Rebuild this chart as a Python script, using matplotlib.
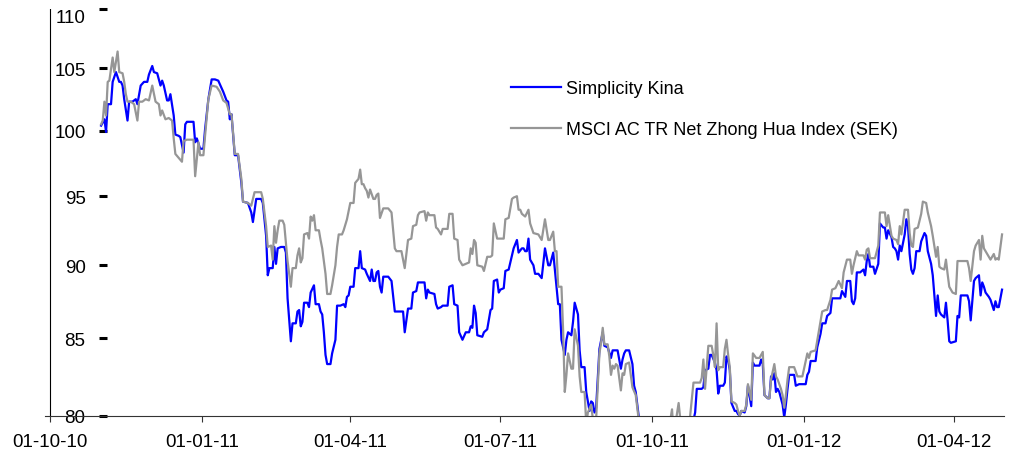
import matplotlib
matplotlib.use("Agg")
import matplotlib.pyplot as plt
import matplotlib.dates as mdates
from matplotlib.ticker import FixedLocator, FixedFormatter, NullLocator
import pandas as pd

plt.rcParams["font.family"] = ["Liberation Sans", "DejaVu Sans"]

# Simplicity Kina (blue)
kina_dates = [
    "2010-11-01", "2010-11-03", "2010-11-04", "2010-11-05", "2010-11-07", "2010-11-08", "2010-11-10", "2010-11-12", "2010-11-13", "2010-11-14",
    "2010-11-15", "2010-11-17", "2010-11-18", "2010-11-20", "2010-11-22", "2010-11-23", "2010-11-25", "2010-11-27", "2010-11-29", "2010-11-30",
    "2010-12-02", "2010-12-03", "2010-12-05", "2010-12-07", "2010-12-08", "2010-12-09", "2010-12-11", "2010-12-12", "2010-12-13", "2010-12-15",
    "2010-12-16", "2010-12-18", "2010-12-19", "2010-12-21", "2010-12-22", "2010-12-23", "2010-12-27", "2010-12-28", "2010-12-29", "2010-12-31",
    "2011-01-02", "2011-01-03", "2011-01-05", "2011-01-07", "2011-01-09", "2011-01-11", "2011-01-12", "2011-01-14", "2011-01-16", "2011-01-17",
    "2011-01-18", "2011-01-19", "2011-01-21", "2011-01-23", "2011-01-25", "2011-01-26", "2011-01-29", "2011-01-31",
    "2011-02-01", "2011-02-03", "2011-02-06", "2011-02-07", "2011-02-09", "2011-02-10", "2011-02-11", "2011-02-13", "2011-02-14", "2011-02-15",
    "2011-02-16", "2011-02-18", "2011-02-20", "2011-02-21", "2011-02-22", "2011-02-24", "2011-02-25", "2011-02-27", "2011-02-28",
    "2011-03-01", "2011-03-02", "2011-03-03", "2011-03-04", "2011-03-06", "2011-03-07", "2011-03-08", "2011-03-10", "2011-03-11", "2011-03-13",
    "2011-03-14", "2011-03-15", "2011-03-16", "2011-03-17", "2011-03-18", "2011-03-20", "2011-03-21", "2011-03-23", "2011-03-24", "2011-03-26",
    "2011-03-28", "2011-03-29", "2011-03-30", "2011-03-31",
    "2011-04-01", "2011-04-03", "2011-04-04", "2011-04-06", "2011-04-07", "2011-04-08", "2011-04-10", "2011-04-11", "2011-04-13", "2011-04-14",
    "2011-04-15", "2011-04-16", "2011-04-17", "2011-04-18", "2011-04-19", "2011-04-20", "2011-04-21", "2011-04-24", "2011-04-26", "2011-04-28",
    "2011-04-30",
    "2011-05-02", "2011-05-03", "2011-05-04", "2011-05-06", "2011-05-08", "2011-05-09", "2011-05-11", "2011-05-12", "2011-05-13", "2011-05-16",
    "2011-05-17", "2011-05-18", "2011-05-19", "2011-05-22", "2011-05-23", "2011-05-24", "2011-05-26", "2011-05-27", "2011-05-30", "2011-05-31",
    "2011-06-02", "2011-06-03", "2011-06-05", "2011-06-06", "2011-06-08", "2011-06-10", "2011-06-12", "2011-06-13", "2011-06-14", "2011-06-15",
    "2011-06-16", "2011-06-17", "2011-06-20", "2011-06-21", "2011-06-23", "2011-06-25", "2011-06-26", "2011-06-27", "2011-06-29", "2011-06-30",
    "2011-07-01", "2011-07-03", "2011-07-04", "2011-07-06", "2011-07-08", "2011-07-09", "2011-07-11", "2011-07-12", "2011-07-14", "2011-07-15",
    "2011-07-16", "2011-07-17", "2011-07-18", "2011-07-19", "2011-07-21", "2011-07-22", "2011-07-24", "2011-07-26", "2011-07-28", "2011-07-30",
    "2011-07-31",
    "2011-08-02", "2011-08-03", "2011-08-05", "2011-08-06", "2011-08-07", "2011-08-09", "2011-08-10", "2011-08-11", "2011-08-13", "2011-08-14",
    "2011-08-15", "2011-08-17", "2011-08-18", "2011-08-19", "2011-08-21", "2011-08-22", "2011-08-24", "2011-08-25", "2011-08-26", "2011-08-27",
    "2011-08-28", "2011-08-29", "2011-08-30",
    "2011-09-01", "2011-09-02", "2011-09-04", "2011-09-06", "2011-09-07", "2011-09-09", "2011-09-10", "2011-09-12", "2011-09-13", "2011-09-14",
    "2011-09-15", "2011-09-17", "2011-09-19", "2011-09-20", "2011-09-21", "2011-09-23", "2011-09-27", "2011-09-30",
    "2011-10-06", "2011-10-10", "2011-10-15", "2011-10-20", "2011-10-24", "2011-10-27", "2011-10-28", "2011-10-30", "2011-10-31",
    "2011-11-01", "2011-11-02", "2011-11-04", "2011-11-05", "2011-11-06", "2011-11-08", "2011-11-09", "2011-11-10", "2011-11-11", "2011-11-13",
    "2011-11-14", "2011-11-15", "2011-11-16", "2011-11-17", "2011-11-18", "2011-11-20", "2011-11-21", "2011-11-22", "2011-11-23", "2011-11-24",
    "2011-11-26", "2011-11-27", "2011-11-28", "2011-11-30",
    "2011-12-01", "2011-12-02", "2011-12-05", "2011-12-06", "2011-12-07", "2011-12-08", "2011-12-10", "2011-12-11", "2011-12-12", "2011-12-13",
    "2011-12-14", "2011-12-15", "2011-12-16", "2011-12-17", "2011-12-19", "2011-12-20", "2011-12-21", "2011-12-22", "2011-12-23", "2011-12-26",
    "2011-12-27", "2011-12-29",
    "2012-01-02", "2012-01-03", "2012-01-04", "2012-01-05", "2012-01-08", "2012-01-09", "2012-01-11", "2012-01-12", "2012-01-14", "2012-01-15",
    "2012-01-17", "2012-01-18", "2012-01-20", "2012-01-23", "2012-01-24", "2012-01-26", "2012-01-27", "2012-01-29", "2012-01-30", "2012-01-31",
    "2012-02-01", "2012-02-02", "2012-02-04", "2012-02-06", "2012-02-07", "2012-02-08", "2012-02-09", "2012-02-10", "2012-02-12", "2012-02-13",
    "2012-02-15", "2012-02-16", "2012-02-18", "2012-02-19", "2012-02-20", "2012-02-21", "2012-02-23", "2012-02-24", "2012-02-25", "2012-02-26",
    "2012-02-27", "2012-02-28", "2012-02-29",
    "2012-03-02", "2012-03-03", "2012-03-04", "2012-03-05", "2012-03-06", "2012-03-07", "2012-03-08", "2012-03-09", "2012-03-11", "2012-03-12",
    "2012-03-14", "2012-03-15", "2012-03-16", "2012-03-18", "2012-03-19", "2012-03-21", "2012-03-22", "2012-03-23", "2012-03-24", "2012-03-25",
    "2012-03-26", "2012-03-27", "2012-03-28", "2012-03-29", "2012-03-30",
    "2012-04-02", "2012-04-03", "2012-04-04", "2012-04-05", "2012-04-06", "2012-04-09", "2012-04-10", "2012-04-11", "2012-04-13", "2012-04-14",
    "2012-04-16", "2012-04-17", "2012-04-18", "2012-04-19", "2012-04-20", "2012-04-22", "2012-04-23", "2012-04-25", "2012-04-26", "2012-04-27",
    "2012-04-28", "2012-04-30",
]
kina = [
    100.4, 100.9, 99.9, 102.1, 102.1, 103.9, 104.7, 103.9, 103.9, 103.6, 102.5, 100.8, 102.3, 102.3, 102.5, 102.1, 103.6, 103.9, 103.9, 104.5,
    105.2, 104.7, 104.6, 103.6, 104.0, 103.6, 102.4, 102.4, 102.9, 101.2, 99.7, 99.6, 99.5, 98.3, 100.5, 100.7, 100.7, 99.1, 99.4, 98.6,
    98.6, 100.1, 102.5, 104.1, 104.1, 104.0, 103.7, 103.1, 102.4, 102.3, 100.9, 101.3, 98.1, 98.1, 96.0, 94.6, 94.5, 93.8,
    93.1, 94.8, 94.8, 94.5, 92.1, 89.3, 89.8, 89.8, 91.3, 90.1, 91.2, 91.3, 91.3, 90.9, 87.7, 84.8, 86.0, 86.0, 86.8,
    86.9, 85.8, 86.1, 87.4, 87.4, 87.1, 88.1, 88.6, 87.3, 87.3, 86.8, 86.6, 85.4, 83.9, 83.3, 83.3, 84.0, 84.9, 87.2, 87.2, 87.3, 87.1, 87.8, 87.9,
    88.5, 88.5, 89.8, 89.8, 91.0, 89.8, 89.7, 89.4, 88.9, 89.7, 88.9, 88.9, 89.5, 89.6, 88.5, 88.1, 89.2, 89.2, 88.9, 86.8, 86.8,
    86.8, 86.8, 85.4, 87.0, 87.0, 88.1, 88.2, 88.8, 88.8, 88.8, 87.7, 88.3, 88.1, 88.0, 87.3, 87.0, 87.1, 87.2, 87.2, 88.5,
    88.6, 87.3, 87.2, 85.4, 84.9, 85.4, 85.4, 85.8, 85.7, 87.2, 86.7, 85.2, 85.1, 85.4, 85.6, 86.9, 87.0, 88.9, 89.0, 88.1,
    88.3, 88.4, 89.6, 89.7, 90.7, 91.2, 91.8, 90.9, 91.2, 91.2, 91.0, 91.0, 91.9, 90.4, 90.0, 89.4, 89.4, 89.1, 91.2, 90.0, 90.0,
    90.9, 89.7, 87.3, 87.3, 84.9, 83.9, 84.9, 85.4, 85.2, 86.1, 87.4, 86.6, 84.2, 83.1, 83.1, 81.5, 80.3, 80.9, 80.8, 80.2, 80.5, 82.4, 84.3,
    85.4, 84.5, 84.4, 83.7, 84.2, 84.2, 84.2, 83.0, 83.6, 84.0, 84.2, 84.2, 83.3, 81.9, 81.5, 79.8, 78.5, 77.8,
    78.2, 78.8, 78.5, 79.0, 78.8, 80.2, 81.7, 81.7, 81.7,
    81.8, 82.9, 83.0, 83.9, 83.9, 83.4, 82.9, 81.4, 81.9, 81.9, 82.1, 83.8, 83.6, 82.9, 80.8, 80.3, 80.3, 80.1, 80.0, 80.3, 80.2, 80.6, 81.9, 80.6,
    83.4, 83.2, 83.2, 83.6, 83.3, 81.3, 81.1, 81.1, 82.5, 82.3, 82.7, 81.5, 81.7, 81.5, 80.7, 79.9, 80.7, 81.7, 82.6, 82.6, 81.9, 82.0,
    82.0, 82.6, 82.8, 83.5, 83.5, 84.4, 85.3, 86.0, 86.0, 86.5, 86.7, 87.7, 87.7, 87.7, 88.2, 87.8, 88.9, 88.9, 87.5, 87.3,
    87.7, 89.5, 89.5, 89.7, 89.3, 90.3, 90.8, 89.9, 89.9, 89.4, 90.1, 93.0, 92.7, 92.7, 91.9, 92.5, 92.0, 91.3, 91.2, 91.0, 90.4, 91.4, 91.0,
    92.2, 93.3, 92.8, 90.8, 89.7, 89.4, 89.8, 91.0, 91.0, 91.7, 92.3, 92.1, 91.0, 90.1, 89.3, 86.5, 87.9, 86.8, 86.6, 86.5, 86.4, 87.4, 86.2, 84.8, 84.7,
    84.8, 86.5, 86.4, 87.9, 87.9, 87.9, 87.5, 86.2, 88.9, 89.1, 89.3, 87.9, 88.8, 88.5, 88.1, 87.8, 87.6, 86.9, 87.5, 87.1, 87.1, 88.3,
]

# MSCI AC TR Net Zhong Hua Index (SEK) (grey)
msci_dates = [
    "2010-11-01", "2010-11-02", "2010-11-03", "2010-11-04", "2010-11-05", "2010-11-06", "2010-11-08", "2010-11-09", "2010-11-11", "2010-11-12",
    "2010-11-14", "2010-11-15", "2010-11-16", "2010-11-17", "2010-11-19", "2010-11-21", "2010-11-23", "2010-11-24", "2010-11-26", "2010-11-28",
    "2010-11-30",
    "2010-12-02", "2010-12-04", "2010-12-06", "2010-12-07", "2010-12-08", "2010-12-10", "2010-12-12", "2010-12-14", "2010-12-15", "2010-12-16",
    "2010-12-18", "2010-12-20", "2010-12-21", "2010-12-23", "2010-12-27", "2010-12-28", "2010-12-30", "2010-12-31",
    "2011-01-02", "2011-01-03", "2011-01-05", "2011-01-07", "2011-01-10", "2011-01-12", "2011-01-14", "2011-01-16", "2011-01-18", "2011-01-19",
    "2011-01-20", "2011-01-21", "2011-01-23", "2011-01-25", "2011-01-26", "2011-01-29", "2011-01-31",
    "2011-02-02", "2011-02-06", "2011-02-07", "2011-02-09", "2011-02-10", "2011-02-12", "2011-02-13", "2011-02-14", "2011-02-15", "2011-02-16",
    "2011-02-17", "2011-02-19", "2011-02-20", "2011-02-22", "2011-02-24", "2011-02-25", "2011-02-27", "2011-02-28",
    "2011-03-01", "2011-03-02", "2011-03-03", "2011-03-04", "2011-03-06", "2011-03-07", "2011-03-08", "2011-03-09", "2011-03-10", "2011-03-11",
    "2011-03-13", "2011-03-14", "2011-03-15", "2011-03-17", "2011-03-18", "2011-03-20", "2011-03-21", "2011-03-23", "2011-03-24", "2011-03-25",
    "2011-03-27", "2011-03-28", "2011-03-30",
    "2011-04-01", "2011-04-03", "2011-04-04", "2011-04-06", "2011-04-07", "2011-04-08", "2011-04-09", "2011-04-10", "2011-04-11", "2011-04-12",
    "2011-04-13", "2011-04-15", "2011-04-16", "2011-04-17", "2011-04-18", "2011-04-19", "2011-04-21", "2011-04-24", "2011-04-26", "2011-04-28",
    "2011-04-29",
    "2011-05-02", "2011-05-03", "2011-05-04", "2011-05-06", "2011-05-08", "2011-05-09", "2011-05-11", "2011-05-12", "2011-05-13", "2011-05-16",
    "2011-05-17", "2011-05-18", "2011-05-19", "2011-05-22", "2011-05-23", "2011-05-24", "2011-05-26", "2011-05-27", "2011-05-30", "2011-05-31",
    "2011-06-02", "2011-06-03", "2011-06-05", "2011-06-06", "2011-06-08", "2011-06-10", "2011-06-12", "2011-06-13", "2011-06-14", "2011-06-15",
    "2011-06-16", "2011-06-17", "2011-06-20", "2011-06-21", "2011-06-23", "2011-06-25", "2011-06-26", "2011-06-27", "2011-06-29",
    "2011-07-01", "2011-07-03", "2011-07-04", "2011-07-06", "2011-07-08", "2011-07-09", "2011-07-11", "2011-07-12", "2011-07-13", "2011-07-14",
    "2011-07-16", "2011-07-18", "2011-07-19", "2011-07-21", "2011-07-24", "2011-07-26", "2011-07-28", "2011-07-30", "2011-07-31",
    "2011-08-02", "2011-08-03", "2011-08-04", "2011-08-05", "2011-08-07", "2011-08-08", "2011-08-09", "2011-08-10", "2011-08-11", "2011-08-13",
    "2011-08-14", "2011-08-15", "2011-08-17", "2011-08-18", "2011-08-19", "2011-08-21", "2011-08-22", "2011-08-23", "2011-08-25", "2011-08-26",
    "2011-08-28", "2011-08-30", "2011-08-31",
    "2011-09-01", "2011-09-02", "2011-09-04", "2011-09-05", "2011-09-06", "2011-09-07", "2011-09-08", "2011-09-09", "2011-09-10", "2011-09-12",
    "2011-09-13", "2011-09-14", "2011-09-15", "2011-09-17", "2011-09-19", "2011-09-21", "2011-09-23", "2011-09-27", "2011-09-30",
    "2011-10-06", "2011-10-10", "2011-10-13", "2011-10-14", "2011-10-17", "2011-10-19", "2011-10-23", "2011-10-26", "2011-10-27", "2011-10-30",
    "2011-10-31",
    "2011-11-01", "2011-11-02", "2011-11-04", "2011-11-06", "2011-11-07", "2011-11-08", "2011-11-09", "2011-11-10", "2011-11-11", "2011-11-13",
    "2011-11-14", "2011-11-15", "2011-11-16", "2011-11-17", "2011-11-18", "2011-11-20", "2011-11-21", "2011-11-22", "2011-11-23", "2011-11-24",
    "2011-11-26", "2011-11-27", "2011-11-28", "2011-11-30",
    "2011-12-01", "2011-12-03", "2011-12-05", "2011-12-07", "2011-12-08", "2011-12-10", "2011-12-11", "2011-12-12", "2011-12-14", "2011-12-15",
    "2011-12-16", "2011-12-18", "2011-12-19", "2011-12-20", "2011-12-21", "2011-12-22", "2011-12-23", "2011-12-26", "2011-12-27", "2011-12-28",
    "2011-12-31",
    "2012-01-03", "2012-01-04", "2012-01-05", "2012-01-08", "2012-01-10", "2012-01-12", "2012-01-14", "2012-01-15", "2012-01-17", "2012-01-18",
    "2012-01-20", "2012-01-22", "2012-01-24", "2012-01-25", "2012-01-27", "2012-01-29", "2012-01-30", "2012-01-31",
    "2012-02-02", "2012-02-03", "2012-02-06", "2012-02-07", "2012-02-08", "2012-02-09", "2012-02-10", "2012-02-13", "2012-02-15", "2012-02-16",
    "2012-02-19", "2012-02-20", "2012-02-21", "2012-02-23", "2012-02-24", "2012-02-26", "2012-02-27", "2012-02-28", "2012-02-29",
    "2012-03-02", "2012-03-04", "2012-03-05", "2012-03-06", "2012-03-07", "2012-03-08", "2012-03-10", "2012-03-12", "2012-03-13", "2012-03-15",
    "2012-03-16", "2012-03-18", "2012-03-19", "2012-03-21", "2012-03-22", "2012-03-23", "2012-03-24", "2012-03-26", "2012-03-27", "2012-03-28",
    "2012-03-29", "2012-03-31",
    "2012-04-02", "2012-04-03", "2012-04-05", "2012-04-09", "2012-04-10", "2012-04-11", "2012-04-13", "2012-04-14", "2012-04-16", "2012-04-17",
    "2012-04-18", "2012-04-19", "2012-04-21", "2012-04-23", "2012-04-25", "2012-04-26", "2012-04-27", "2012-04-28", "2012-04-30",
]
msci = [
    100.5, 100.8, 102.3, 101.2, 103.9, 104.0, 105.9, 104.7, 106.4, 104.7, 104.6, 103.9, 102.9, 102.3, 102.3, 102.1, 100.8, 102.3, 102.3, 102.5, 102.4,
    103.6, 102.3, 102.1, 101.2, 101.6, 100.9, 101.0, 100.8, 99.4, 98.2, 97.9, 97.6, 99.2, 99.3, 99.3, 96.5, 99.1, 98.1,
    98.1, 99.6, 102.5, 103.6, 103.5, 103.1, 102.4, 102.2, 101.3, 101.3, 99.8, 98.2, 98.2, 96.3, 94.6, 94.5, 94.3,
    95.3, 95.3, 94.8, 92.8, 91.3, 91.4, 90.4, 92.8, 91.6, 92.5, 93.2, 93.2, 92.9, 90.3, 88.5, 89.8, 89.8, 90.7,
    91.2, 90.2, 90.5, 92.2, 92.3, 91.9, 93.5, 93.2, 93.6, 92.5, 92.5, 91.8, 91.2, 89.4, 88.0, 88.0, 88.6, 90.0, 91.3, 92.2, 92.2, 92.5, 93.3,
    94.5, 94.5, 96.0, 96.3, 97.0, 95.9, 95.9, 95.6, 95.4, 94.9, 95.5, 94.8, 94.8, 95.1, 95.2, 93.4, 94.1, 94.1, 93.8, 91.2, 91.0,
    91.0, 90.4, 89.8, 91.8, 91.9, 92.8, 92.9, 93.6, 93.8, 93.9, 93.2, 93.8, 93.6, 93.6, 92.7, 92.6, 92.2, 92.6, 92.6, 93.7,
    93.7, 91.9, 91.8, 90.4, 90.0, 90.1, 90.2, 91.2, 90.8, 91.8, 91.6, 90.0, 89.9, 89.6, 90.6, 90.6, 90.7, 93.0, 91.9,
    91.9, 91.9, 93.3, 93.4, 94.8, 94.9, 95.0, 94.0, 94.0, 93.7, 93.5, 94.0, 93.0, 92.3, 92.2, 91.8, 93.3, 91.8, 91.8,
    92.4, 91.0, 91.0, 88.5, 88.5, 85.5, 81.5, 82.6, 84.0, 83.0, 83.0, 85.6, 84.5, 82.5, 81.5, 81.5, 79.5, 80.2, 80.7, 79.8, 79.8, 84.0, 84.7,
    85.7, 84.6, 84.6, 83.8, 82.6, 83.2, 83.0, 83.3, 83.2, 81.6, 82.7, 82.6, 83.3, 83.4, 81.8, 81.3, 79.6, 78.2, 77.5,
    77.8, 78.5, 80.4, 78.8, 80.8, 78.8, 79.0, 82.1, 82.1, 82.1, 82.4,
    83.6, 81.7, 84.5, 84.5, 83.9, 83.1, 86.0, 82.9, 83.1, 83.1, 84.3, 84.9, 83.9, 83.1, 80.9, 80.8, 80.7, 80.3, 80.0, 80.3, 80.3, 80.7, 82.0, 81.0,
    84.0, 83.7, 83.7, 84.1, 81.3, 81.1, 81.1, 82.3, 83.3, 82.5, 82.3, 81.7, 81.3, 80.5, 81.3, 82.3, 83.1, 83.1, 82.8, 82.5, 82.5,
    84.0, 83.7, 84.1, 84.2, 85.5, 86.8, 86.9, 86.9, 87.6, 88.3, 88.4, 88.9, 88.4, 89.5, 90.4, 90.4, 89.4, 90.0,
    91.0, 90.7, 90.7, 90.4, 91.1, 91.2, 90.5, 90.5, 91.4, 93.8, 93.8, 92.8, 93.6, 92.1, 91.9, 91.8, 91.5, 92.8, 92.2,
    94.0, 94.0, 92.3, 91.4, 91.3, 92.6, 92.7, 93.7, 94.6, 94.5, 93.8, 92.8, 92.1, 90.6, 91.3, 89.9, 89.8, 89.7, 90.4, 89.4, 88.5, 88.1,
    88.0, 90.3, 90.3, 90.3, 89.8, 88.9, 91.0, 91.4, 91.8, 90.4, 92.1, 91.2, 90.8, 90.4, 90.8, 90.4, 90.5, 90.4, 92.2,
]

y_ticks = [80, 85, 90, 95, 100, 105, 110]
x_ticks = ["2010-10-01", "2011-01-01", "2011-04-01", "2011-07-01", "2011-10-01", "2012-01-01", "2012-04-01"]

fig = plt.figure(figsize=(10.12, 4.56), dpi=100)
ax = fig.add_axes([45 / 1012, 39.3 / 456, 958.7 / 1012, 406.7 / 456])

ax.plot(pd.to_datetime(kina_dates), kina, color="#0000FF", lw=1.6, label="Simplicity Kina")
ax.plot(pd.to_datetime(msci_dates), msci, color="#969696", lw=1.6,
        label="MSCI AC TR Net Zhong Hua Index (SEK)")

# log value axis
ax.set_yscale("log")
ax.set_ylim(80, 110)
ax.yaxis.set_major_locator(FixedLocator(y_ticks))
ax.yaxis.set_major_formatter(FixedFormatter([str(v) for v in y_ticks]))
ax.yaxis.set_minor_locator(NullLocator())

start = pd.Timestamp(x_ticks[0])
ax.set_xlim(start - pd.Timedelta(days=3), pd.Timestamp("2012-05-01"))
ax.set_xticks(pd.to_datetime(x_ticks))
ax.xaxis.set_major_formatter(mdates.DateFormatter("%d-%m-%y"))
ax.xaxis.set_minor_locator(NullLocator())

# y ticks sit at the first data point, the axis line at the start date
ax.spines["left"].set_position(("data", mdates.date2num(pd.Timestamp("2010-10-31"))))
ax.spines["left"].set_color("none")
ax.axvline(start, color="black", lw=0.8)
ax.spines["top"].set_visible(False)
ax.spines["right"].set_visible(False)
ax.spines["bottom"].set_color("#333333")
ax.spines["bottom"].set_linewidth(0.8)

ax.tick_params(axis="y", direction="in", length=5.8, width=2.2, color="black",
               pad=10, labelsize=13.5, labelcolor="black")
ax.tick_params(axis="x", direction="out", length=4.5, width=0.8, color="#333333",
               pad=8, labelsize=13.5, labelcolor="black")

# the top label sits a little below its tick, as in the original
ax.yaxis.get_major_ticks()[-1].label1.set_verticalalignment("top")

ax.legend(loc="upper left", bbox_to_anchor=(511 / 1012, 1 - 81 / 456),
          bbox_transform=fig.transFigure, frameon=False, fontsize=13,
          handlelength=2.77, handletextpad=0.28, labelspacing=1.32,
          borderpad=0, borderaxespad=0)

fig.savefig("out.png", dpi=100)
